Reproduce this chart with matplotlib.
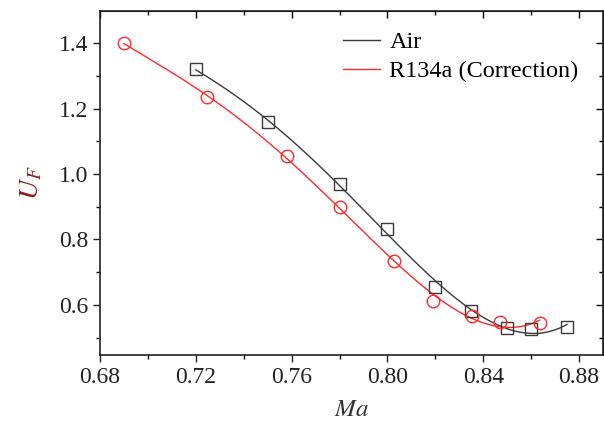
import numpy as np
import matplotlib
matplotlib.use('Agg')
import matplotlib.pyplot as plt
from matplotlib.ticker import MultipleLocator, FormatStrFormatter

# datos
ma_air = [0.720, 0.750, 0.780, 0.800, 0.820, 0.835, 0.850, 0.860, 0.875]
uf_air = [1.320, 1.158, 0.969, 0.832, 0.654, 0.580, 0.531, 0.526, 0.534]

ma_r134a = [0.690, 0.7245, 0.758, 0.780, 0.8026, 0.819, 0.8355, 0.8468, 0.8635]
uf_r134a = [1.400, 1.234, 1.055, 0.900, 0.735, 0.612, 0.565, 0.548, 0.546]

x_ticks = [0.68, 0.72, 0.76, 0.80, 0.84, 0.88]
y_ticks = [0.6, 0.8, 1.0, 1.2, 1.4]

plt.rcParams['font.family'] = ['Liberation Serif', 'DejaVu Serif']
plt.rcParams['mathtext.fontset'] = 'stix'

fig = plt.figure(figsize=(6.04, 4.25), dpi=100)
ax = fig.add_axes([0.1656, 0.1647, 0.8327, 0.8094])

gris = '#3a3a3a'
rojo = '#ff2a2a'


def curva_ajuste(x, y, grado=4):
    # ajuste polinomico como en la figura original
    coef = np.polyfit(x, y, grado)
    xs = np.linspace(min(x), max(x), 200)
    return xs, np.polyval(coef, xs)


xa, ya = curva_ajuste(ma_air, uf_air, 4)
xr, yr = curva_ajuste(ma_r134a, uf_r134a, 4)

ax.plot(xa, ya, color=gris, lw=1.0, label='Air')
ax.plot(xr, yr, color=rojo, lw=1.0, label='R134a (Correction)')
ax.plot(ma_air, uf_air, 's', mfc='none', mec=gris, ms=8, mew=1.0)
ax.plot(ma_r134a, uf_r134a, 'o', mfc='none', mec=rojo, ms=9, mew=1.0)

ax.set_xlim(0.68, 0.89)
ax.set_ylim(0.447, 1.498)
ax.set_xticks(x_ticks)
ax.set_yticks(y_ticks)
ax.xaxis.set_minor_locator(MultipleLocator(0.02))
ax.yaxis.set_minor_locator(MultipleLocator(0.1))
ax.xaxis.set_major_formatter(FormatStrFormatter('%.2f'))
ax.yaxis.set_major_formatter(FormatStrFormatter('%.1f'))

ax.tick_params(which='major', direction='out', length=5, width=1.0,
               labelsize=17, colors='#222222')
ax.tick_params(which='minor', direction='out', length=3, width=1.0)

for s in ax.spines.values():
    s.set_linewidth(1.2)
    s.set_color('#222222')

# ejes espejo arriba y a la derecha con ticks hacia dentro
top = ax.secondary_xaxis('top')
top.set_xticks(x_ticks)
top.xaxis.set_minor_locator(MultipleLocator(0.02))
top.tick_params(which='major', direction='in', length=5, width=1.0, labeltop=False)
top.tick_params(which='minor', direction='in', length=3, width=1.0)
right = ax.secondary_yaxis('right')
right.set_yticks(y_ticks)
right.yaxis.set_minor_locator(MultipleLocator(0.1))
right.tick_params(which='major', direction='in', length=5, width=1.0, labelright=False)
right.tick_params(which='minor', direction='in', length=3, width=1.0)

ax.set_xlabel('$Ma$', fontsize=18, color='#333333', labelpad=8)
ax.set_ylabel('$U_F$', fontsize=20, color='#8b1c1c', labelpad=10)

ax.legend(loc='upper right', bbox_to_anchor=(0.995, 1.005), frameon=False,
          fontsize=17.5, handlelength=1.5, handletextpad=0.4, labelspacing=0.3)

fig.savefig('out.png', dpi=100)
